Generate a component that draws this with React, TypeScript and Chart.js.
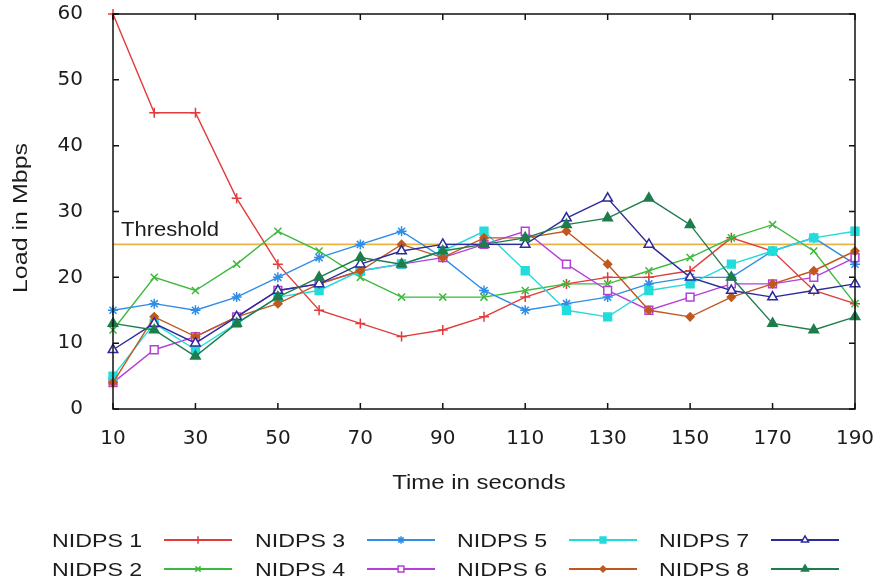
import React, { useEffect, useRef } from 'react';
import { Chart, registerables } from 'chart.js';
import { drawPoint } from 'chart.js/helpers';

Chart.register(...registerables);

// ---- data ----
const TIMES = [10, 20, 30, 40, 50, 60, 70, 80, 90, 100, 110, 120, 130, 140, 150, 160, 170, 180, 190];
const NIDPS1 = [60, 45, 45, 32, 22, 15, 13, 11, 12, 14, 17, 19, 20, 20, 21, 26, 24, 18, 16];
const NIDPS2 = [12, 20, 18, 22, 27, 24, 20, 17, 17, 17, 18, 19, 19, 21, 23, 26, 28, 24, 16];
const NIDPS3 = [15, 16, 15, 17, 20, 23, 25, 27, 23, 18, 15, 16, 17, 19, 20, 20, 24, 26, 22];
const NIDPS4 = [4, 9, 11, 14, 18, 19, 21, 22, 23, 25, 27, 22, 18, 15, 17, 19, 19, 20, 23];
const NIDPS5 = [5, 13, 9, 13, 17, 18, 21, 22, 24, 27, 21, 15, 14, 18, 19, 22, 24, 26, 27];
const NIDPS6 = [4, 14, 11, 14, 16, 19, 21, 25, 23, 26, 26, 27, 22, 15, 14, 17, 19, 21, 24];
const NIDPS7 = [9, 13, 10, 14, 18, 19, 22, 24, 25, 25, 25, 29, 32, 25, 20, 18, 17, 18, 19];
const NIDPS8 = [13, 12, 8, 13, 17, 20, 23, 22, 24, 25, 26, 28, 29, 32, 28, 20, 13, 12, 14];
const SERIES_LABELS = ['NIDPS 1', 'NIDPS 2', 'NIDPS 3', 'NIDPS 4', 'NIDPS 5', 'NIDPS 6', 'NIDPS 7', 'NIDPS 8'];
const THRESHOLD = 25;
const THRESHOLD_LABEL = 'Threshold';
const X_TITLE = 'Time in seconds';
const Y_TITLE = 'Load in Mbps';
const X_MIN = 10;
const X_MAX = 190;
const X_STEP = 20;
const Y_MIN = 0;
const Y_MAX = 60;
const Y_STEP = 10;

// ---- styles ----
const SERIES = [NIDPS1, NIDPS2, NIDPS3, NIDPS4, NIDPS5, NIDPS6, NIDPS7, NIDPS8];
const COLORS = ['#e23b3b', '#3dba3d', '#2f8de6', '#b440d8', '#22dcdc', '#c0581e', '#2b2b9c', '#1f7d4c'];
const STYLES: any[] = ['cross', 'crossRot', 'star', 'rect', 'rect', 'rectRot', 'triangle', 'triangle'];
const FILLED = [true, true, true, false, true, true, false, true];
const RADII = [5, 5, 5, 5.5, 5.5, 4, 5.5, 5.5];
const TEXT = '#1c1c1c';
const FONT = '"Liberation Sans", Arial, sans-serif';

function stretchText(ctx: CanvasRenderingContext2D, text: string, x: number, y: number, sx: number, size: number, align: CanvasTextAlign, rot = 0) {
  ctx.save();
  ctx.translate(x, y);
  if (rot) ctx.rotate(rot);
  ctx.scale(sx, 1);
  ctx.font = `${size}px ${FONT}`;
  ctx.fillStyle = TEXT;
  ctx.textAlign = align;
  ctx.textBaseline = 'alphabetic';
  ctx.fillText(text, 0, 0);
  ctx.restore();
}

const zeroPad = (s: any) => {
  s.paddingTop = 0;
  s.paddingBottom = 0;
  s.paddingLeft = 0;
  s.paddingRight = 0;
};

const decorPlugin = {
  id: 'decor',
  afterDatasetsDraw(chart: any) {
    const { ctx, chartArea: a, scales } = chart;
    const xs = scales.x;
    const ys = scales.y;
    ctx.save();
    // frame
    ctx.strokeStyle = '#111';
    ctx.lineWidth = 1.5;
    ctx.strokeRect(a.left, a.top, a.right - a.left, a.bottom - a.top);
    // inward tick marks
    ctx.beginPath();
    const tl = 6;
    xs.ticks.forEach((t: any) => {
      const px = xs.getPixelForValue(t.value);
      ctx.moveTo(px, a.bottom);
      ctx.lineTo(px, a.bottom - tl);
      ctx.moveTo(px, a.top);
      ctx.lineTo(px, a.top + tl);
    });
    ys.ticks.forEach((t: any) => {
      const py = ys.getPixelForValue(t.value);
      ctx.moveTo(a.left, py);
      ctx.lineTo(a.left + tl, py);
      ctx.moveTo(a.right, py);
      ctx.lineTo(a.right - tl, py);
    });
    ctx.stroke();
    ctx.restore();

    // threshold label
    stretchText(ctx, THRESHOLD_LABEL, a.left + 8, ys.getPixelForValue(THRESHOLD) - 8, 1.05, 21, 'left');
    // axis titles
    stretchText(ctx, X_TITLE, 479, 489, 1.14, 21, 'center');
    stretchText(ctx, Y_TITLE, 27, 218, 1.25, 20, 'center', -Math.PI / 2);

    // legend (2 rows x 4 columns, text then sample)
    const colX = [52, 255, 457, 659];
    const rowY = [547, 576];
    SERIES_LABELS.forEach((lab, i) => {
      const col = Math.floor(i / 2);
      const row = i % 2;
      const tx = colX[col];
      const by = rowY[row];
      stretchText(ctx, lab, tx, by, 1.22, 19, 'left');
      const ly = by - 7;
      const x0 = tx + 112;
      const x1 = tx + 180;
      ctx.save();
      ctx.strokeStyle = COLORS[i];
      ctx.lineWidth = 2;
      ctx.beginPath();
      ctx.moveTo(x0, ly);
      ctx.lineTo(x1, ly);
      ctx.stroke();
      ctx.fillStyle = FILLED[i] ? COLORS[i] : '#ffffff';
      ctx.lineWidth = 1.5;
      drawPoint(ctx, { pointStyle: STYLES[i], radius: RADII[i] * 0.75, rotation: 0, borderWidth: 1.5 } as any, (x0 + x1) / 2, ly);
      ctx.restore();
    });
  },
};

export default function App() {
  const ref = useRef<HTMLCanvasElement>(null);
  useEffect(() => {
    if (!ref.current) return;
    const datasets: any[] = SERIES.map((vals, i) => ({
      label: SERIES_LABELS[i],
      data: TIMES.map((t, j) => ({ x: t, y: vals[j] })),
      borderColor: COLORS[i],
      backgroundColor: FILLED[i] ? COLORS[i] : '#ffffff',
      pointBorderColor: COLORS[i],
      pointBackgroundColor: FILLED[i] ? COLORS[i] : '#ffffff',
      pointStyle: STYLES[i],
      pointRadius: RADII[i],
      pointBorderWidth: 1.5,
      borderWidth: 1.4,
      tension: 0,
      fill: false,
      order: 8 - i,
      clip: false,
    }));
    datasets.push({
      label: THRESHOLD_LABEL,
      data: [{ x: X_MIN, y: THRESHOLD }, { x: X_MAX, y: THRESHOLD }],
      borderColor: '#e8b443',
      borderWidth: 1.6,
      pointRadius: 0,
      fill: false,
      order: 20,
    });
    const chart = new Chart(ref.current, {
      type: 'line',
      data: { datasets },
      options: {
        animation: false,
        responsive: false,
        devicePixelRatio: 1,
        layout: { padding: { top: 14, right: 21, left: 0, bottom: 0 } },
        plugins: { legend: { display: false }, tooltip: { enabled: false } },
        scales: {
          x: {
            type: 'linear',
            min: X_MIN,
            max: X_MAX,
            grid: { display: false },
            border: { display: false },
            ticks: { stepSize: X_STEP, padding: 10, color: TEXT, font: { family: '"DejaVu Sans"', size: 20 }, maxRotation: 0 },
            afterFit: (s: any) => { s.height = 177; zeroPad(s); },
          },
          y: {
            type: 'linear',
            min: Y_MIN,
            max: Y_MAX,
            grid: { display: false },
            border: { display: false },
            ticks: { stepSize: Y_STEP, padding: 22, color: TEXT, font: { family: '"DejaVu Sans"', size: 20 } },
            afterFit: (s: any) => { s.width = 113; zeroPad(s); },
          },
        },
      },
      plugins: [decorPlugin],
    });
    return () => chart.destroy();
  }, []);
  return (
    <div style={{ position: 'absolute', left: 0, top: 0, width: 876, height: 586, background: '#fff' }}>
      <canvas ref={ref} width={876} height={586} style={{ display: 'block' }} />
    </div>
  );
}
